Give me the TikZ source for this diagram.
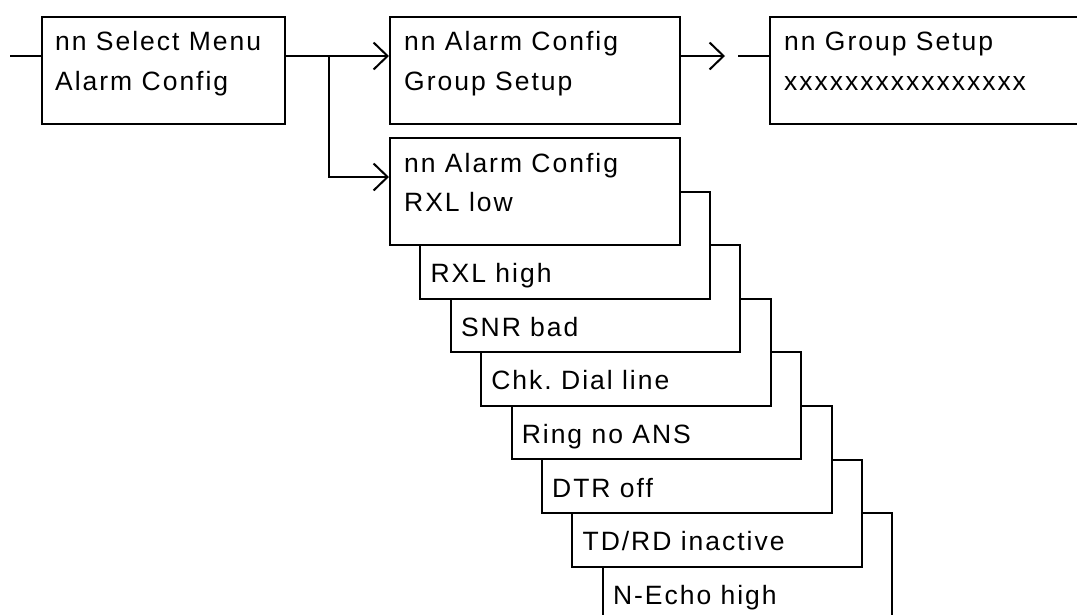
\documentclass[tikz,border=0pt]{standalone}
\usepackage{fontspec}
\setmainfont{Liberation Sans}[LetterSpace=7.5]
\frenchspacing
\usetikzlibrary{arrows.meta,calc}

\tikzset{
  menubox/.style={draw, line width=2pt, fill=white, rectangle, anchor=north west,
                  inner sep=0pt, minimum height=107pt},
  lbl/.style={anchor=base west, inner sep=0pt, font=\fontsize{26.5}{32}\selectfont},
  conn/.style={line width=2pt},
  arr/.style={conn, -{Straight Barb[length=14pt,width=27pt,line width=2pt]}},
}

\begin{document}
\begin{tikzpicture}[x=1pt, y=-1pt]
  \useasboundingbox (0,0) rectangle (1077,614);
  \clip (0,0) rectangle (1077,614);

  % top row of menu screens
  \node[menubox, minimum width=243pt] (sel) at (41,16) {};
  \node[menubox, minimum width=290pt] (grp) at (389,16) {};
  \node[menubox, minimum width=330pt] (gset) at (769,16) {};

  \node[lbl] (sel1) at ($(sel.north west)+(14,34)$) {nn Select Menu};
  \node[lbl] (sel2) at ($(sel.north west)+(14,74)$) {Alarm Config};
  \node[lbl] (grp1) at ($(grp.north west)+(15,34)$) {nn Alarm Config};
  \node[lbl] (grp2) at ($(grp.north west)+(15,74)$) {Group Setup};
  \node[lbl] (gset1) at ($(gset.north west)+(15,34)$) {nn Group Setup};
  \node[lbl] (gset2) at ($(gset.north west)+(15,74)$) {xxxxxxxxxxxxxxxx};

  % stack of alarm screens, drawn from the back to the front
  \foreach \k/\txt in {8/{N-Echo high}, 7/{TD/RD inactive}, 6/{DTR off}, 5/{Ring no ANS},
                       4/{Chk. Dial line}, 3/{SNR bad}, 2/{RXL high}}{
    \node[menubox, minimum width=289.5pt] (al\k) at ({389+30.4*(\k-1)},{137+53.6*(\k-1)}) {};
    \node[lbl] (al\k t) at ($(al\k.south west)+(11,-17)$) {\txt};
  }
  \node[menubox, minimum width=290pt] (al1) at (389,137) {};
  \node[lbl] (al1a) at ($(al1.north west)+(15,35)$) {nn Alarm Config};
  \node[lbl] (al1b) at ($(al1.north west)+(15,74)$) {RXL low};

  % connectors
  \coordinate (entry) at (10,56);
  \coordinate (fork) at (329,56);
  \coordinate (out) at (725,56);
  \coordinate (resume) at (738,56);

  \draw[conn] (entry) -- (entry -| sel.west);
  \draw[arr] (fork -| sel.east) -- (fork -| grp.west);
  \draw[arr] (fork) |- ($(al1.north west)+(0,40)$);
  \draw[arr] (out -| grp.east) -- (out);
  \draw[conn] (resume) -- (resume -| gset.west);
\end{tikzpicture}
\end{document}
